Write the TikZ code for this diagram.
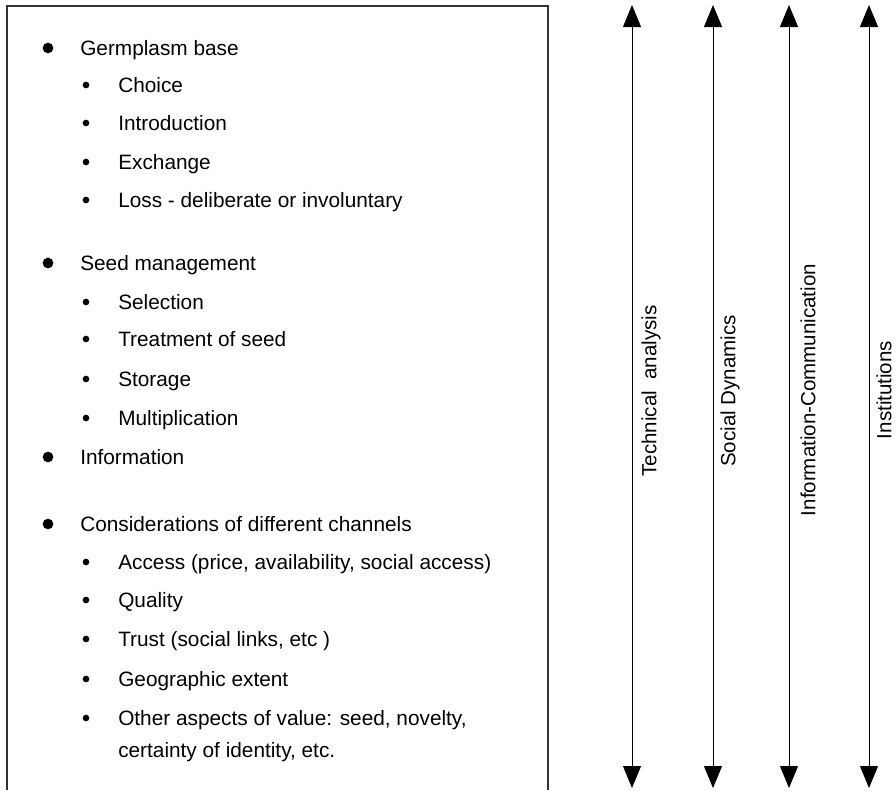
\documentclass[tikz,border=0pt]{standalone}
\usepackage{fontspec}
\setmainfont{Liberation Sans}
\usetikzlibrary{arrows.meta}
\tikzstyle{listbox} = [draw=black!80, line width=0.8pt]
\tikzstyle{mainitem} = [anchor=base west, inner sep=0, font=\fontsize{15.6}{18}\selectfont]
\tikzstyle{subitem} = [mainitem]
\tikzstyle{bigdot} = [circle, fill=black, inner sep=0, minimum size=8pt]
\tikzstyle{smalldot} = [circle, fill=black, inner sep=0, minimum size=5pt]
\tikzstyle{axisarrow} = [{Triangle[length=16.5pt,width=13.5pt]}-{Triangle[length=16.5pt,width=13.5pt]}, line width=0.7pt]
\tikzstyle{axislabel} = [rotate=90, inner sep=0, font=\fontsize{15.4}{18}\selectfont]

\begin{document}
\begin{tikzpicture}[x=0.75pt,y=-0.75pt]
\useasboundingbox (0,0) rectangle (896,790);

% the list, open at the bottom
\coordinate (boxbl) at (7,790);
\coordinate (boxtr) at (548,6);
\coordinate (boxbr) at (548,790);
\draw[listbox] (boxbl) |- (boxtr) -- (boxbr);

\node[bigdot] (d1) at (48,48) {};
\node[mainitem] (germ) at (80,55) {Germplasm base};
\node[smalldot] (d11) at (86,85) {};
\node[subitem] (choice) at (118,92) {Choice};
\node[smalldot] (d12) at (86,123) {};
\node[subitem] (intro) at (118,130) {Introduction};
\node[smalldot] (d13) at (86,162) {};
\node[subitem] (exch) at (118,169) {Exchange};
\node[smalldot] (d14) at (86,200) {};
\node[subitem] (loss) at (118,207) {Loss - deliberate or involuntary};

\node[bigdot] (d2) at (48,263) {};
\node[mainitem] (seedman) at (80,270) {Seed management};
\node[smalldot] (d21) at (86,302) {};
\node[subitem] (select) at (118,309) {Selection};
\node[smalldot] (d22) at (86,339) {};
\node[subitem] (treat) at (118,346) {Treatment of seed};
\node[smalldot] (d23) at (86,379) {};
\node[subitem] (store) at (118,386) {Storage};
\node[smalldot] (d24) at (86,418) {};
\node[subitem] (multi) at (118,425) {Multiplication};

\node[bigdot] (d3) at (48,457) {};
\node[mainitem] (info) at (80,464) {Information};

\node[bigdot] (d4) at (48,524) {};
\node[mainitem] (consid) at (80,531) {Considerations of different channels};
\node[smalldot] (d41) at (86,562) {};
\node[subitem] (access) at (118,569) {Access (price, availability, social access)};
\node[smalldot] (d42) at (86,600) {};
\node[subitem] (quality) at (118,607) {Quality};
\node[smalldot] (d43) at (86,639) {};
\node[subitem] (trust) at (118,646) {Trust (social links, etc )};
\node[smalldot] (d44) at (86,679) {};
\node[subitem] (geo) at (118,686) {Geographic extent};
\node[smalldot] (d45) at (86,718) {};
\node[subitem] (other) at (118,725) {Other aspects of value: seed, novelty,};
\node[subitem] (othertwo) at (118,757) {certainty of identity, etc.};

% the four axes
\coordinate (techtop) at (632,5);
\coordinate (techbot) at (632,788);
\draw[axisarrow] (techbot) -- (techtop);
\node[axislabel] (tech) at (651,391) {Technical\ \ analysis};

\coordinate (socialtop) at (713,5);
\coordinate (socialbot) at (713,788);
\draw[axisarrow] (socialbot) -- (socialtop);
\node[axislabel] (social) at (730,391) {Social Dynamics};

\coordinate (infotop) at (789,5);
\coordinate (infobot) at (789,788);
\draw[axisarrow] (infobot) -- (infotop);
\node[axislabel] (infocom) at (808,390) {Information-Communication};

\coordinate (insttop) at (869,5);
\coordinate (instbot) at (869,788);
\draw[axisarrow] (instbot) -- (insttop);
\node[axislabel] (inst) at (884,390) {Institutions};
\end{tikzpicture}
\end{document}
